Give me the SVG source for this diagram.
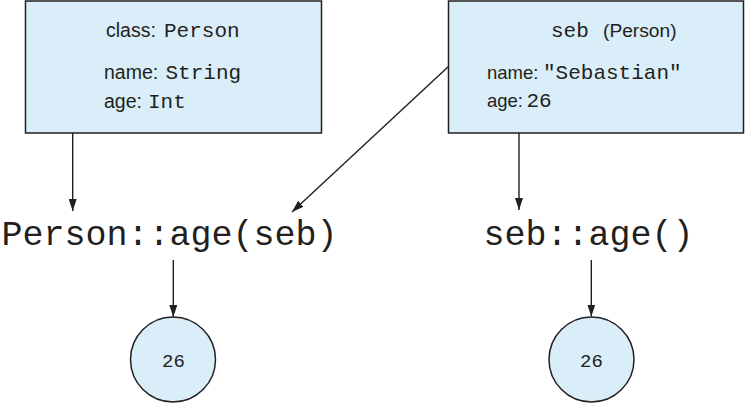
<svg xmlns="http://www.w3.org/2000/svg" width="745" height="403" viewBox="0 0 745 403">
<defs>
<marker id="ah" viewBox="0 0 12 8" refX="12" refY="4" markerWidth="12" markerHeight="8" markerUnits="userSpaceOnUse" orient="auto">
<path d="M0,0 L12,4 L0,8 z" fill="#231f20"/>
</marker>
<style>
.box{fill:#d9eef9;stroke:#231f20;stroke-width:1.5}
.sans{font-family:"Liberation Sans",Arial,sans-serif;font-size:19.5px;fill:#231f20}
.sansr{font-family:"Liberation Sans",Arial,sans-serif;font-size:18.5px;fill:#231f20}
.mono{font-family:"Liberation Mono","Courier New",monospace;font-size:21px;fill:#231f20}
.big{font-family:"Liberation Mono","Courier New",monospace;font-size:35px;fill:#231f20}
.num{font-family:"Liberation Mono","Courier New",monospace;font-size:19px;fill:#231f20;text-anchor:middle}
.conn{stroke:#231f20;stroke-width:1.4;fill:none;marker-end:url(#ah)}
</style>
</defs>
<rect width="745" height="403" fill="#ffffff"/>
<g id="class-person">
<rect class="box" x="25.5" y="1" width="296" height="132"/>
<text class="sans" x="106" y="37">class:</text><text class="mono" x="164" y="37">Person</text>
<text class="sans" x="104" y="79">name:</text><text class="mono" x="165.5" y="79">String</text>
<text class="sans" x="104" y="108">age:</text><text class="mono" x="148" y="108">Int</text>
</g>
<g id="seb-object">
<rect class="box" x="448.5" y="1" width="295" height="132"/>
<text class="mono" x="551" y="37">seb</text><text class="sansr" x="603" y="37" style="font-size:19.2px">(Person)</text>
<text class="sansr" x="487" y="79">name:</text><text class="mono" x="543" y="79">"Sebastian"</text>
<text class="sansr" x="487" y="107">age:</text><text class="mono" x="526.5" y="107">26</text>
</g>
<g id="call-person-age">
<text class="big" x="1.5" y="245">Person::age(seb)</text>
</g>
<g id="call-seb-age">
<text class="big" x="483.5" y="245">seb::age()</text>
</g>
<g id="result-left">
<circle class="box" cx="173" cy="359.5" r="42.5"/>
<text class="num" x="173.5" y="366.5">26</text>
</g>
<g id="result-right">
<circle class="box" cx="591.5" cy="359.5" r="42.5"/>
<text class="num" x="591.5" y="366.5">26</text>
</g>
<g id="connectors">
<line class="conn" x1="72.7" y1="133" x2="72.7" y2="211"/>
<line class="conn" x1="449" y1="66" x2="292" y2="212"/>
<line class="conn" x1="519" y1="133" x2="519" y2="210"/>
<line class="conn" x1="173.3" y1="260" x2="173.3" y2="317"/>
<line class="conn" x1="591.3" y1="260" x2="591.3" y2="316.5"/>
</g>
</svg>
